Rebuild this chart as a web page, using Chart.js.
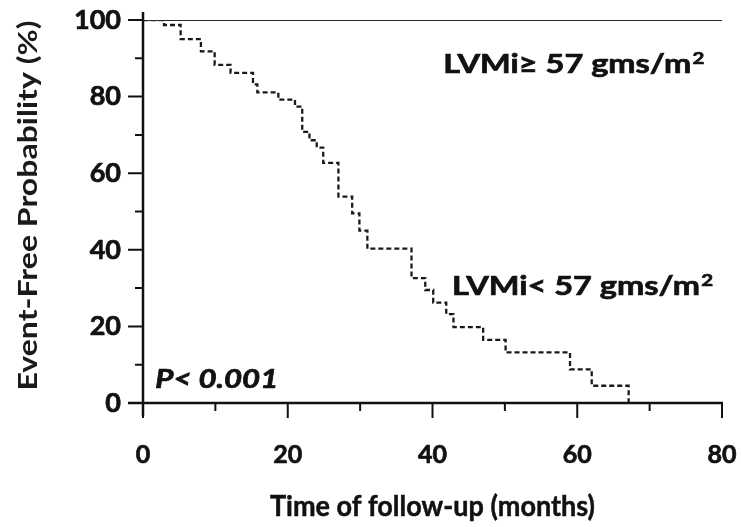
<!DOCTYPE html>
<html>
<head>
<meta charset="utf-8">
<script src="https://cdn.jsdelivr.net/npm/chart.js@4.4.1/dist/chart.umd.min.js"></script>
<style>
  html, body { margin: 0; padding: 0; background: #fff; }
  #wrap { width: 741px; height: 527px; }
</style>
</head>
<body>
<div id="wrap"><canvas id="km-chart"></canvas></div>
<script>
// Kaplan-Meier steps (months, % event-free)
const lowMonths   = [0, 2.9, 5.2, 8.0, 9.9, 12.1, 15.2, 15.8, 18.7, 21.0, 22.0, 23.0, 24.0, 24.9, 27.0, 28.9, 29.9, 31.0, 37.1, 39.0, 40.1, 41.9, 42.9, 47.0, 50.1, 59.0, 62.0, 67.1];
const lowSurvival = [100, 98.7, 95.0, 91.8, 88.3, 86.2, 83.2, 81.1, 79.2, 77.4, 70.8, 68.6, 66.7, 62.7, 53.9, 49.5, 45.0, 40.3, 32.6, 29.5, 26.2, 23.2, 19.8, 16.5, 13.2, 8.8, 4.5, 0];
const highMonths   = [0, 80];
const highSurvival = [100, 100];
const xMajorTicks = [0, 20, 40, 60, 80];
const xMinorTicks = [10, 30, 50, 70];
const yMajorTicks = [0, 20, 40, 60, 80, 100];
const yMinorTicks = [10, 30, 50, 70, 90];

const FONT = 'Lato, Carlito, "Open Sans", sans-serif';
const INK = '#111';

const toPoints = (xs, ys) => xs.map((x, i) => ({ x: x, y: ys[i] }));

// text squeezed/stretched to a given width (the source figure is a bit wide)
function stretchedText(ctx, text, font, x, y, width, align, stroke) {
    ctx.font = font;
    const sx = width / ctx.measureText(text).width;
    ctx.save();
    ctx.translate(x, y);
    ctx.scale(sx, 1);
    ctx.textAlign = align;
    if (stroke) {
        ctx.lineWidth = stroke;
        ctx.strokeStyle = ctx.fillStyle;
        ctx.strokeText(text, 0, 0);
    }
    ctx.fillText(text, 0, 0);
    ctx.restore();
}

// axis lines with long major / short minor ticks, like the original figure
const axesPlugin = {
    id: 'axes',
    afterDatasetsDraw(chart) {
        const ctx = chart.ctx;
        const xs = chart.scales.x, ys = chart.scales.y;
        const x0 = xs.getPixelForValue(0), y0 = ys.getPixelForValue(0);
        ctx.save();
        ctx.strokeStyle = INK;
        ctx.lineWidth = 2.5;
        ctx.beginPath();
        ctx.moveTo(x0, ys.getPixelForValue(100) - 8);
        ctx.lineTo(x0, y0 + 13);
        ctx.moveTo(x0 - 15, y0);
        ctx.lineTo(xs.getPixelForValue(80) + 1, y0);
        ctx.stroke();
        ctx.lineWidth = 2;
        ctx.beginPath();
        yMajorTicks.forEach(v => { const p = ys.getPixelForValue(v); ctx.moveTo(x0 - 15, p); ctx.lineTo(x0, p); });
        yMinorTicks.forEach(v => { const p = ys.getPixelForValue(v); ctx.moveTo(x0 - 8, p); ctx.lineTo(x0, p); });
        xMajorTicks.forEach(v => { const p = xs.getPixelForValue(v); ctx.moveTo(p, y0); ctx.lineTo(p, y0 + 15); });
        xMinorTicks.forEach(v => { const p = xs.getPixelForValue(v); ctx.moveTo(p, y0); ctx.lineTo(p, y0 + 8); });
        ctx.stroke();
        ctx.restore();
    }
};

// axis titles, group labels and p-value
const labelsPlugin = {
    id: 'labels',
    afterDraw(chart) {
        const ctx = chart.ctx;
        const xs = chart.scales.x, ys = chart.scales.y;
        const area = chart.chartArea;
        ctx.save();
        ctx.fillStyle = INK;
        ctx.strokeStyle = INK;
        ctx.textBaseline = 'alphabetic';

        const groupLabel = (text, xv, yv, width) => {
            const x = xs.getPixelForValue(xv), y = ys.getPixelForValue(yv);
            ctx.font = 'bold 27px ' + FONT;
            const w1 = ctx.measureText(text).width;
            ctx.font = 'bold 17px ' + FONT;
            const w2 = ctx.measureText('2').width;
            ctx.save();
            ctx.translate(x, y);
            ctx.scale(width / (w1 + 1 + w2), 1);
            ctx.textAlign = 'left';
            ctx.lineWidth = 0.7;
            ctx.font = 'bold 27px ' + FONT;
            ctx.strokeText(text, 0, 0);
            ctx.fillText(text, 0, 0);
            ctx.font = 'bold 17px ' + FONT;
            ctx.strokeText('2', w1 + 1, -9);
            ctx.fillText('2', w1 + 1, -9);
            ctx.restore();
        };
        groupLabel('LVMi\u2265 57 gms/m', 41.5, 86.2, 261);
        groupLabel('LVMi< 57 gms/m', 42.7, 28.2, 261);

        stretchedText(ctx, 'P< 0.001', 'italic bold 26px ' + FONT,
            xs.getPixelForValue(1.7), ys.getPixelForValue(3.8), 123, 'left', 0.7);

        // x axis title
        stretchedText(ctx, 'Time of follow-up (months)', 'bold 29px ' + FONT,
            (area.left + area.right) / 2, 516, 325, 'center', 0.5);

        // y axis title, rotated
        ctx.save();
        ctx.translate(28, (area.top + area.bottom) / 2 - 6);
        ctx.rotate(-Math.PI / 2);
        ctx.textBaseline = 'middle';
        ctx.fillStyle = '#1a1a1a';
        stretchedText(ctx, 'Event-Free Probability (%)', 'bold 27px ' + FONT, 0, 0, 370, 'center');
        ctx.restore();

        ctx.restore();
    }
};

const whiteBackgroundPlugin = {
    id: 'whiteBackground',
    beforeDraw(chart) {
        const ctx = chart.ctx;
        ctx.save();
        ctx.fillStyle = '#fff';
        ctx.fillRect(0, 0, chart.width, chart.height);
        ctx.restore();
    }
};

const kmChartCtx = document.getElementById('km-chart').getContext('2d');
const kmChart = new Chart(kmChartCtx, {
    type: 'line',
    data: {
        datasets: [{
            label: 'LVMi\u2265 57 gms/m\u00b2',
            data: toPoints(highMonths, highSurvival),
            borderColor: '#2a2a2a',
            borderWidth: 2,
            pointRadius: 0,
            stepped: true,
            fill: false
        }, {
            label: 'LVMi< 57 gms/m\u00b2',
            data: toPoints(lowMonths, lowSurvival),
            borderColor: '#1a1a1a',
            borderWidth: 2.3,
            borderDash: [5, 3],
            pointRadius: 0,
            stepped: true,
            fill: false
        }]
    },
    options: {
        responsive: true,
        maintainAspectRatio: false,
        animation: false,
        layout: { padding: { top: 20, right: 19, left: 0, bottom: 0 } },
        plugins: {
            legend: { display: false },
            tooltip: { enabled: false }
        },
        scales: {
            x: {
                type: 'linear',
                min: 0,
                max: 80,
                afterFit: s => { s.height = 124; s.paddingLeft = 0; s.paddingRight = 0; },
                afterBuildTicks: s => { s.ticks = xMajorTicks.map(v => ({ value: v })); },
                ticks: {
                    color: INK, padding: 27, textStrokeColor: INK, textStrokeWidth: 0.7,
                    font: { family: FONT, size: 25, weight: 'bold' }
                },
                grid: { drawOnChartArea: false, color: 'transparent', tickLength: 10 },
                border: { display: false },
                title: { display: false }
            },
            y: {
                type: 'linear',
                min: 0,
                max: 100,
                afterFit: s => { s.width = 143; s.paddingTop = 0; s.paddingBottom = 0; },
                afterBuildTicks: s => { s.ticks = yMajorTicks.map(v => ({ value: v })); },
                ticks: {
                    color: INK, padding: 12, textStrokeColor: INK, textStrokeWidth: 0.7,
                    font: { family: FONT, size: 27, weight: 'bold' }
                },
                grid: { drawOnChartArea: false, color: 'transparent', tickLength: 10 },
                border: { display: false },
                title: { display: false }
            }
        }
    },
    plugins: [whiteBackgroundPlugin, axesPlugin, labelsPlugin]
});
</script>
</body>
</html>
